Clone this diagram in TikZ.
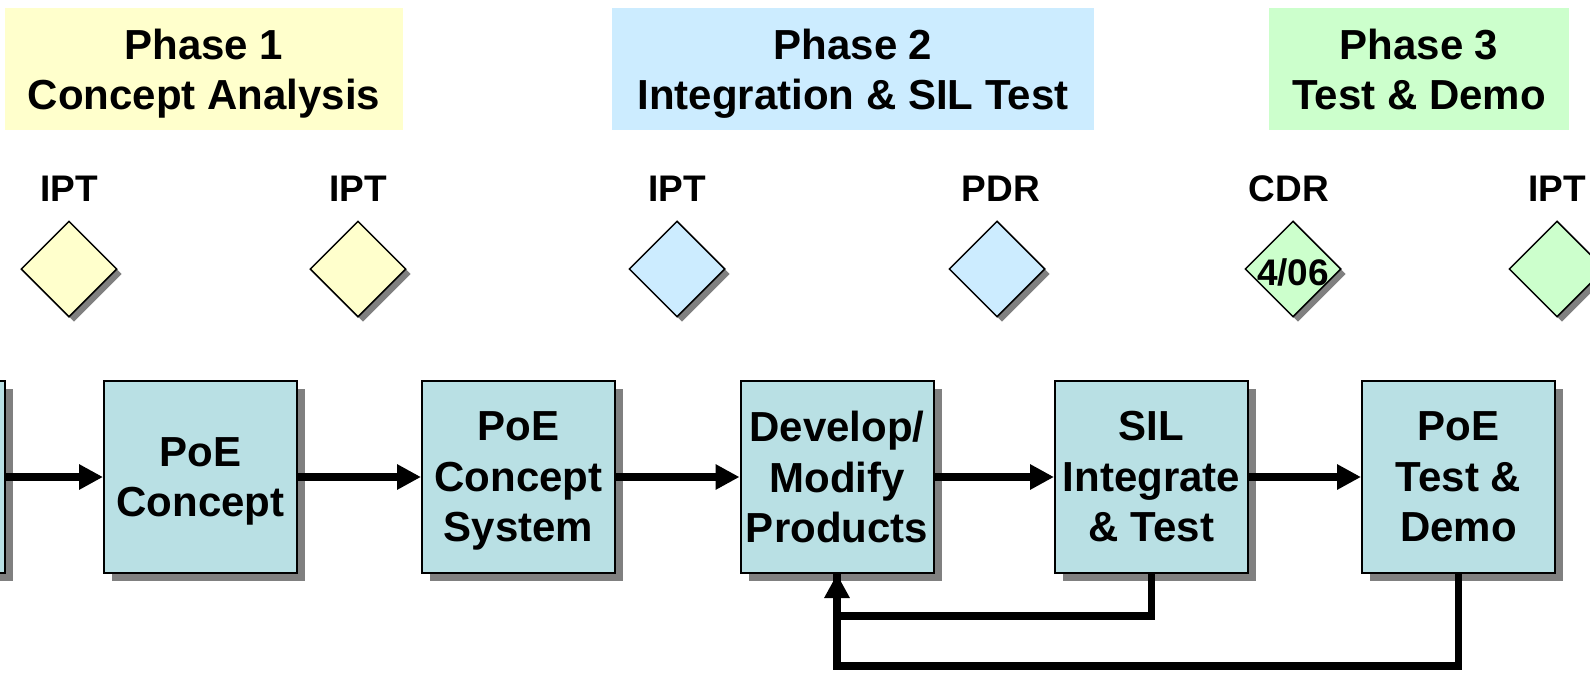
\documentclass[tikz,border=0pt]{standalone}
\usepackage{fontspec}
\setmainfont{Liberation Sans}
\usetikzlibrary{arrows.meta,shapes.geometric,shadows}
\definecolor{boxfill}{RGB}{185,224,228}
\definecolor{pyellow}{RGB}{255,255,204}
\definecolor{pblue}{RGB}{204,236,255}
\definecolor{pgreen}{RGB}{204,255,204}
\definecolor{shadowgray}{RGB}{128,128,128}
\newcommand{\nodp}[1]{\raisebox{0pt}[\height][0pt]{#1}}
\begin{document}
\begin{tikzpicture}[x=1pt,y=-1pt,
  procbox/.style={draw=black, line width=2pt, fill=boxfill,
    minimum width=193pt, minimum height=192pt, inner sep=0pt, align=center,
    font=\bfseries\fontsize{42}{50.5}\selectfont,
    drop shadow={shadow xshift=8pt, shadow yshift=-8pt, fill=shadowgray, opacity=1}},
  phasebox/.style={fill=#1, draw=none, minimum height=122pt, inner sep=0pt, align=center,
    font=\bfseries\fontsize{42}{50}\selectfont},
  dia/.style={diamond, aspect=1, draw=black, line width=1.5pt, fill=#1,
    minimum size=96pt, inner sep=0pt,
    drop shadow={shadow xshift=5pt, shadow yshift=-5pt, fill=shadowgray, opacity=1}},
  mlabel/.style={inner sep=0pt, font=\bfseries\fontsize{37}{40}\selectfont},
  arrline/.style={line width=8pt, -{Triangle[length=24pt,width=24pt]}},
  fbline/.style={line width=7.5pt},
]
\useasboundingbox (0,0) rectangle (1590,675);
\clip (0,0) rectangle (1590,675);

% phase headers
\node[phasebox=pyellow, minimum width=398pt] (ph1) at (204,69) {Phase 1\\\nodp{Concept Analysis}};
\node[phasebox=pblue, minimum width=482pt] (ph2) at (853,69) {Phase 2\\\nodp{Integration \& SIL Test}};
\node[phasebox=pgreen, minimum width=300pt] (ph3) at (1419,69) {Phase 3\\Test \& Demo};

% milestone labels
\node[mlabel] (l1) at (69,189) {IPT};
\node[mlabel] (l2) at (358,189) {IPT};
\node[mlabel] (l3) at (677,189) {IPT};
\node[mlabel] (l4) at (1001,189) {PDR};
\node[mlabel] (l5) at (1289,189) {CDR};
\node[mlabel] (l6) at (1557,189) {IPT};

% milestone diamonds
\node[dia=pyellow] (d1) at (69,269) {};
\node[dia=pyellow] (d2) at (358,269) {};
\node[dia=pblue] (d3) at (677,269) {};
\node[dia=pblue] (d4) at (997,269) {};
\node[dia=pgreen] (d5) at (1293,269) {};
\node[dia=pgreen] (d6) at (1557,269) {};
\node[mlabel] (d5t) at (1293,272) {4/06};

% process boxes
\node[procbox] (b0) at (-91.5,477) {};
\node[procbox] (b1) at (200.5,477) {PoE\\\nodp{Concept}};
\node[procbox] (b2) at (518.5,477) {PoE\\Concept\\\nodp{System}};
\node[procbox] (b3) at (837,477) {Develop/\\Modify\\Products};
\node[procbox] (b4) at (1151.5,477) {SIL\\Integrate\\\& Test};
\node[procbox] (b5) at (1458.5,477) {PoE\\Test \&\\Demo};

% forward arrows
\draw[arrline] (b0.east) -- (b1.west);
\draw[arrline] (b1.east) -- (b2.west);
\draw[arrline] (b2.east) -- (b3.west);
\draw[arrline] (b3.east) -- (b4.west);
\draw[arrline] (b4.east) -- (b5.west);

% feedback loops
\coordinate (fb1) at (1151.5,616);
\coordinate (fb2) at (1458.5,666);
\draw[fbline] (b5.south) -- (fb2) -| (b3.south);
\draw[fbline, -{Triangle[length=24pt,width=24pt]}] (b4.south) -- (fb1) -| (b3.south);
\end{tikzpicture}
\end{document}
